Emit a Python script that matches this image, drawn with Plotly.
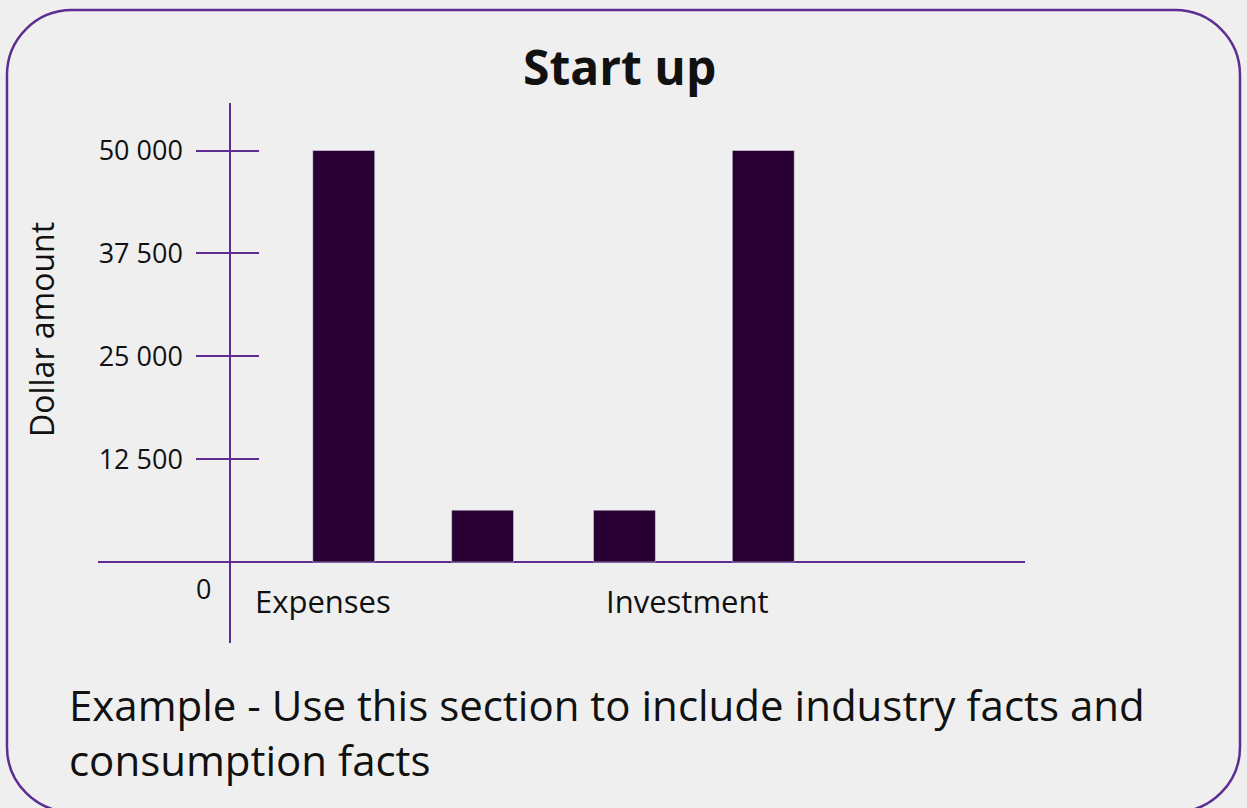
import plotly.graph_objects as go

W, H = 1247, 808

categories = ["Expenses", "Investment"]
series_a = [50000, 6300]
series_b = [6300, 50000]
y_ticks = [12500, 25000, 37500, 50000]

BAR = "#2a0034"
PURPLE = "#5e2d91"
BG = "#efefef"

def px(x):
    return x / W

def py(y):
    return 1 - y / H

fig = go.Figure()
fig.add_trace(go.Bar(x=categories, y=series_a, marker_color=BAR, showlegend=False, hoverinfo="skip"))
fig.add_trace(go.Bar(x=categories, y=series_b, marker_color=BAR, showlegend=False, hoverinfo="skip"))
fig.add_trace(go.Scatter(x=categories, y=[None, None], yaxis="y2", mode="lines", showlegend=False, hoverinfo="skip"))

# rounded rectangle border
L, R, T, B, r = 7, 1240, 10, 812, 65
k = 0.5523 * r
pts = [
    ("M", [(L + r, T)]),
    ("L", [(R - r, T)]),
    ("C", [(R - r + k, T), (R, T + r - k), (R, T + r)]),
    ("L", [(R, B - r)]),
    ("C", [(R, B - r + k), (R - r + k, B), (R - r, B)]),
    ("L", [(L + r, B)]),
    ("C", [(L + r - k, B), (L, B - r + k), (L, B - r)]),
    ("L", [(L, T + r)]),
    ("C", [(L, T + r - k), (L + r - k, T), (L + r, T)]),
]
path = " ".join(cmd + " " + " ".join(f"{px(x):.5f},{py(y):.5f}" for x, y in p) for cmd, p in pts) + " Z"
fig.add_shape(type="path", path=path, xref="paper", yref="paper",
              line=dict(color=PURPLE, width=2.5), layer="below")

yrange = [-9842, 55771]
tickfont = dict(family="Open Sans", size=27, color="#111111")
catfont = dict(family="Open Sans", size=31, color="#111111")

fig.update_layout(
    width=W, height=H,
    margin=dict(l=0, r=0, t=0, b=0),
    paper_bgcolor=BG, plot_bgcolor="rgba(0,0,0,0)",
    barmode="group", bargap=0.0107, bargroupgap=0.554,
    separators=". ",
    xaxis=dict(domain=[px(98), px(1025)], range=[-1.1228, 2.1797], type="category",
               showline=False, showticklabels=False, ticks="", showgrid=False, zeroline=False),
    yaxis=dict(domain=[py(643), py(103)], range=yrange, anchor="free", position=px(230),
               showline=True, linecolor=PURPLE, linewidth=1.5,
               ticks="outside", ticklen=33, tickwidth=1.5, tickcolor=PURPLE,
               tickvals=y_ticks, tickformat=",", tickfont=tickfont, ticklabelstandoff=8,
               showgrid=False, zeroline=True, zerolinecolor=PURPLE, zerolinewidth=1.5),
    yaxis2=dict(domain=[py(643), py(103)], range=yrange, overlaying="y", anchor="free", position=px(230),
                side="left", showline=False, ticks="inside", ticklen=28, tickwidth=1.5, tickcolor=PURPLE,
                tickvals=y_ticks, showticklabels=False, showgrid=False, zeroline=False),
    font=dict(family="Open Sans", color="#111111"),
)

annotations = [
    dict(text="<b>Start up</b>", x=px(619), y=py(67), xref="paper", yref="paper",
         showarrow=False, font=dict(family="Open Sans", size=48, color="#111111"),
         xanchor="center", yanchor="middle"),
    dict(text="Dollar amount", x=px(42), y=py(330), xref="paper", yref="paper", textangle=-90,
         showarrow=False, font=dict(family="Open Sans", size=32, color="#111111"),
         xanchor="center", yanchor="middle"),
    dict(text="0", x=px(203), y=py(588), xref="paper", yref="paper",
         showarrow=False, font=tickfont, xanchor="center", yanchor="middle"),
    dict(text=categories[0], x=categories[0], xref="x", xshift=-90, y=py(601), yref="paper",
         showarrow=False, font=catfont, xanchor="center", yanchor="middle"),
    dict(text=categories[1], x=categories[1], xref="x", xshift=-6, y=py(601), yref="paper",
         showarrow=False, font=catfont, xanchor="center", yanchor="middle"),
    dict(text="Example - Use this section to include industry facts and<br>consumption facts",
         x=px(67), y=py(732), xref="paper", yref="paper", showarrow=False, align="left",
         font=dict(family="Open Sans", size=42, color="#111111"),
         xanchor="left", yanchor="middle"),
]
fig.update_layout(annotations=annotations)

fig.write_html("out.html")
